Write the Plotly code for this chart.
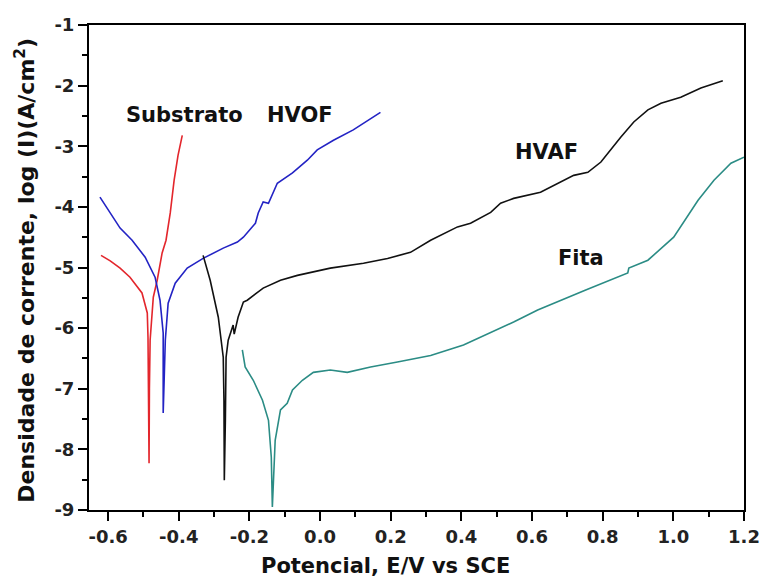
import plotly.graph_objects as go

# Substrato (red)
sub_E = [-0.620, -0.594, -0.566, -0.538, -0.504, -0.489, -0.487, -0.485, -0.484,
         -0.483, -0.481, -0.472, -0.461, -0.447, -0.436, -0.424, -0.413, -0.402, -0.390]
sub_L = [-4.80, -4.89, -5.01, -5.16, -5.42, -5.75, -6.15, -7.20, -8.23,
         -7.00, -6.20, -5.49, -5.21, -4.76, -4.55, -4.10, -3.56, -3.15, -2.82]

# HVOF (blue)
hvof_E = [-0.623, -0.594, -0.566, -0.532, -0.495, -0.467, -0.453, -0.444, -0.444,
          -0.441, -0.438, -0.430, -0.410, -0.376, -0.331, -0.274, -0.234, -0.217,
          -0.183, -0.175, -0.161, -0.146, -0.121, -0.078, -0.036, -0.008, 0.038,
          0.094, 0.171]
hvof_L = [-3.84, -4.10, -4.35, -4.55, -4.83, -5.16, -5.54, -6.08, -7.40,
          -6.80, -6.20, -5.59, -5.26, -5.01, -4.85, -4.68, -4.58, -4.50,
          -4.27, -4.10, -3.92, -3.94, -3.61, -3.44, -3.23, -3.06, -2.90,
          -2.73, -2.44]

# HVAF (black)
hvaf_E = [-0.331, -0.311, -0.288, -0.274, -0.272, -0.271, -0.268, -0.266, -0.260,
          -0.249, -0.246, -0.243, -0.232, -0.217, -0.206, -0.161, -0.112, -0.064,
          0.029, 0.123, 0.191, 0.256, 0.313, 0.389, 0.426, 0.483, 0.511, 0.548,
          0.624, 0.718, 0.758, 0.795, 0.851, 0.888, 0.928, 0.965, 1.021, 1.078,
          1.140]
hvaf_L = [-4.80, -5.21, -5.82, -6.48, -7.20, -8.51, -7.52, -6.48, -6.20,
          -6.03, -5.95, -6.10, -5.82, -5.57, -5.54, -5.34, -5.21, -5.13,
          -5.01, -4.93, -4.85, -4.75, -4.55, -4.33, -4.27, -4.09, -3.94, -3.86,
          -3.76, -3.48, -3.43, -3.26, -2.85, -2.60, -2.40, -2.29, -2.19, -2.04,
          -1.92]

# Fita (teal)
fita_E = [-0.220, -0.212, -0.189, -0.163, -0.146, -0.138, -0.135, -0.132, -0.130,
          -0.127, -0.112, -0.093, -0.078, -0.050, -0.019, 0.029, 0.077, 0.143,
          0.219, 0.313, 0.406, 0.483, 0.548, 0.616, 0.701, 0.752, 0.871, 0.874,
          0.928, 1.001, 1.070, 1.115, 1.163, 1.200]
fita_L = [-6.36, -6.64, -6.86, -7.19, -7.52, -8.13, -8.95, -8.40, -8.20,
          -7.85, -7.35, -7.24, -7.02, -6.86, -6.73, -6.69, -6.73, -6.64,
          -6.56, -6.45, -6.28, -6.08, -5.90, -5.70, -5.49, -5.37, -5.09, -5.01,
          -4.88, -4.50, -3.89, -3.56, -3.28, -3.18]

x_ticks = [-0.6, -0.4, -0.2, 0.0, 0.2, 0.4, 0.6, 0.8, 1.0, 1.2]
x_labels = ["-0.6", "-0.4", "-0.2", "0.0", "0.2", "0.4", "0.6", "0.8", "1.0", "1.2"]
y_ticks = [-9, -8, -7, -6, -5, -4, -3, -2, -1]
y_labels = ["-9", "-8", "-7", "-6", "-5", "-4", "-3", "-2", "-1"]

fig = go.Figure()
fig.add_trace(go.Scatter(x=sub_E, y=sub_L, mode="lines", name="Substrato",
                         line=dict(color="#e3262c", width=1.6)))
fig.add_trace(go.Scatter(x=hvof_E, y=hvof_L, mode="lines", name="HVOF",
                         line=dict(color="#2323c4", width=1.6)))
fig.add_trace(go.Scatter(x=hvaf_E, y=hvaf_L, mode="lines", name="HVAF",
                         line=dict(color="#111111", width=1.6)))
fig.add_trace(go.Scatter(x=fita_E, y=fita_L, mode="lines", name="Fita",
                         line=dict(color="#2b8c85", width=1.6)))

lab_font = dict(family="DejaVu Sans", size=21, color="#111111", weight="bold")
for txt, x, y in [("Substrato", -0.385, -2.49), ("HVOF", -0.056, -2.49),
                  ("HVAF", 0.641, -3.10), ("Fita", 0.738, -4.85)]:
    fig.add_annotation(x=x, y=y, text=txt, showarrow=False, font=lab_font,
                       xanchor="center", yanchor="middle")

fig.add_annotation(xref="paper", yref="paper", x=0.452, y=-0.115,
                   text="Potencial, E/V vs SCE", showarrow=False,
                   font=dict(family="DejaVu Sans", size=21, color="#111111", weight="bold"),
                   xanchor="center", yanchor="middle")
fig.add_annotation(xref="paper", yref="paper", x=-0.098, y=0.495,
                   text="Densidade de corrente, log (I)(A/cm<sup>2</sup>)",
                   showarrow=False,
                   font=dict(family="DejaVu Sans", size=22, color="#111111", weight="bold"),
                   textangle=-90, xanchor="center", yanchor="middle")

tick_font = dict(family="DejaVu Sans", size=18, color="#222222", weight="bold")
fig.update_xaxes(range=[-0.654, 1.2], tickmode="array",
                 tickvals=x_ticks, ticktext=x_labels, automargin=False,
                 ticks="outside", ticklen=9, tickwidth=2, tickcolor="black",
                 minor=dict(tickvals=[-0.5, -0.3, -0.1, 0.1, 0.3, 0.5, 0.7, 0.9, 1.1],
                            ticks="outside", ticklen=5, tickwidth=2, tickcolor="black"),
                 showline=True, linewidth=2, linecolor="black", mirror=True,
                 showgrid=False, zeroline=False, tickfont=tick_font)
fig.update_yaxes(range=[-9, -1], tickmode="array",
                 tickvals=y_ticks, ticktext=y_labels, automargin=False,
                 ticks="outside", ticklen=9, tickwidth=2, tickcolor="black",
                 minor=dict(tickvals=[-8.5, -7.5, -6.5, -5.5, -4.5, -3.5, -2.5, -1.5],
                            ticks="outside", ticklen=5, tickwidth=2, tickcolor="black"),
                 showline=True, linewidth=2, linecolor="black", mirror=True,
                 showgrid=False, zeroline=False, tickfont=tick_font)

fig.update_layout(width=763, height=578, showlegend=False,
                  margin=dict(l=89, r=19, t=25, b=68),
                  paper_bgcolor="white", plot_bgcolor="white")
fig.write_html("out.html")
